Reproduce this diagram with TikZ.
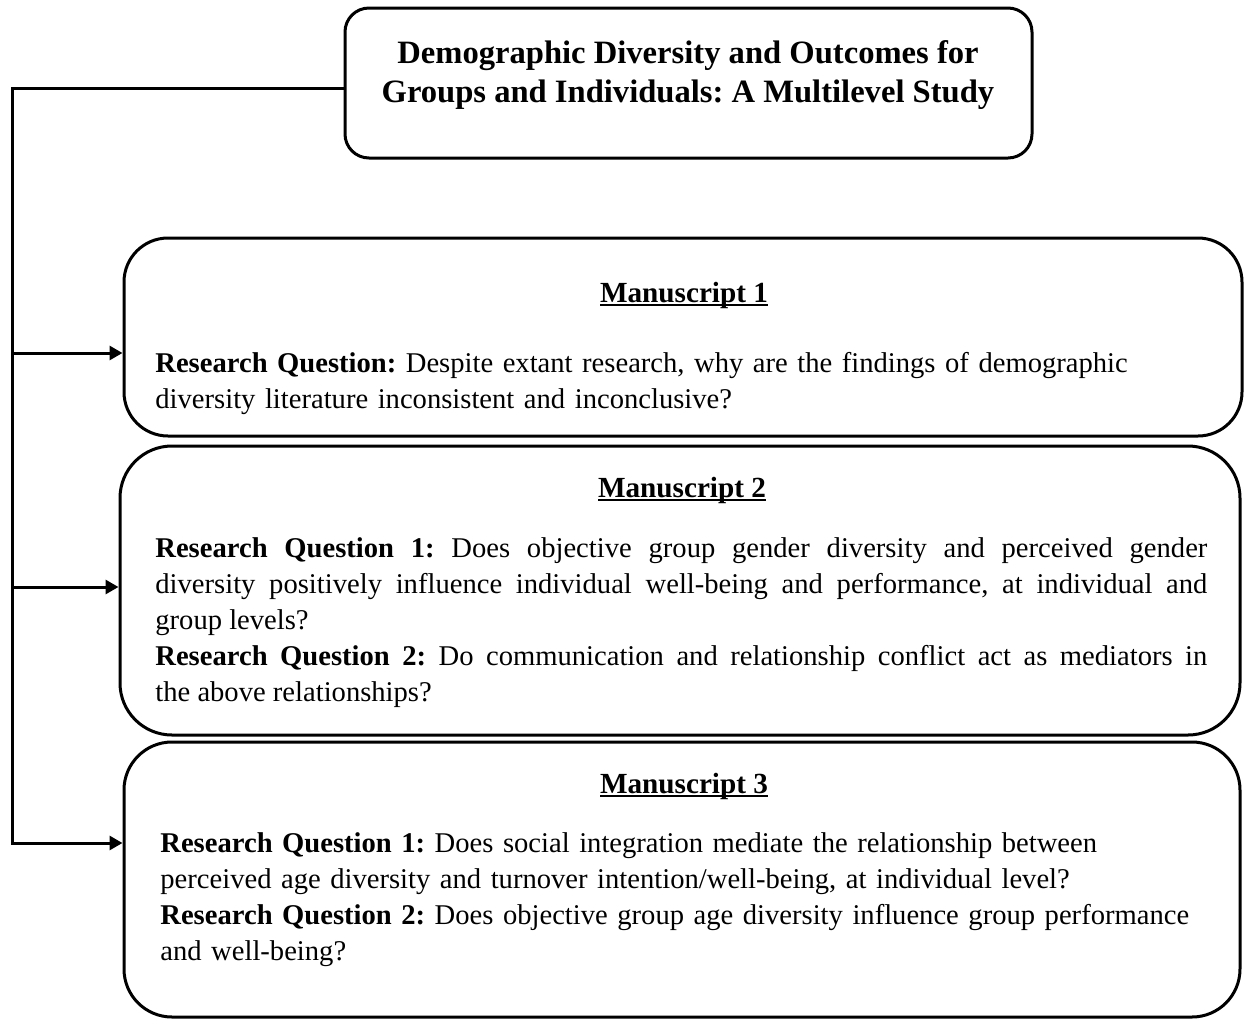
\documentclass[tikz,border=0pt]{standalone}
\usepackage{fontspec}
\setmainfont{Liberation Serif}
\usetikzlibrary{arrows.meta,fit}
\frenchspacing
\newcommand\ulbold[1]{\setbox0=\hbox{\bfseries #1}\leavevmode\rlap{\rule[-2.2pt]{\wd0}{1pt}}\box0}
\begin{document}
\begin{tikzpicture}[x=0.5pt,y=-0.5pt,
  box/.style={draw, line width=1.5pt, inner sep=0pt},
  arr/.style={line width=1.5pt, -{Triangle[length=6.5pt,width=7pt]}},
  txt/.style={font=\fontsize{14.3}{18}\selectfont, inner sep=0pt},
  head/.style={font=\fontsize{14.6}{19}\selectfont\bfseries, inner sep=0pt},
  titlefont/.style={font=\fontsize{16.3}{19.5}\selectfont\bfseries, inner sep=0pt}]
\useasboundingbox (0,0) rectangle (1244,1019);
% boxes
\node[box, rounded corners=12pt, fit={(345,8) (1032,158)}] (title) {};
\node[box, rounded corners=22pt, fit={(124,238) (1242,436)}] (m1) {};
\node[box, rounded corners=26pt, fit={(120,446) (1240,735)}] (m2) {};
\node[box, rounded corners=24pt, fit={(124,742) (1240,1017)}] (m3) {};
% title text
\node[titlefont, anchor=base, align=center] (ttext) at (688,102)
  {Demographic Diversity and Outcomes for\\Groups and Individuals: A Multilevel Study};
% manuscript headings
\node[head, anchor=base] (h1) at (684,302) {\ulbold{Manuscript 1}};
\node[head, anchor=base] (h2) at (682,497) {\ulbold{Manuscript 2}};
\node[head, anchor=base] (h3) at (684,793) {\ulbold{Manuscript 3}};
% body texts
\node[txt, anchor=base west, text width=540pt, align=left] (b1) at (155,372)
  {\textbf{Research Question:} Despite extant research, why are the findings of demographic\\
   diversity literature inconsistent and inconclusive?};
\node[txt, anchor=base west, text width=526pt, align=justify] (b2) at (155,557)
  {\textbf{Research Question 1:} Does objective group gender diversity and perceived gender\linebreak
   diversity positively influence individual well-being and performance, at individual and\linebreak
   group levels?\newline
   \textbf{Research Question 2:} Do communication and relationship conflict act as mediators in\linebreak
   the above relationships?};
\node[txt, anchor=base west, text width=540pt, align=left] (b3) at (160,852)
  {\textbf{Research Question 1:} Does social integration mediate the relationship between\\
   perceived age diversity and turnover intention/well-being, at individual level?\\
   \textbf{Research Question 2:} Does objective group age diversity influence group performance\\
   and well-being?};
% connectors
\coordinate (t0) at (12,88);
\coordinate (t1) at (12,353);
\coordinate (t2) at (12,587);
\coordinate (t3) at (12,843);
\draw[arr, line join=miter] (t0 -| title.west) -- (t0) -- (t3) -- (t3 -| m3.west);
\draw[arr] (t1) -- (t1 -| m1.west);
\draw[arr] (t2) -- (t2 -| m2.west);
\end{tikzpicture}
\end{document}
